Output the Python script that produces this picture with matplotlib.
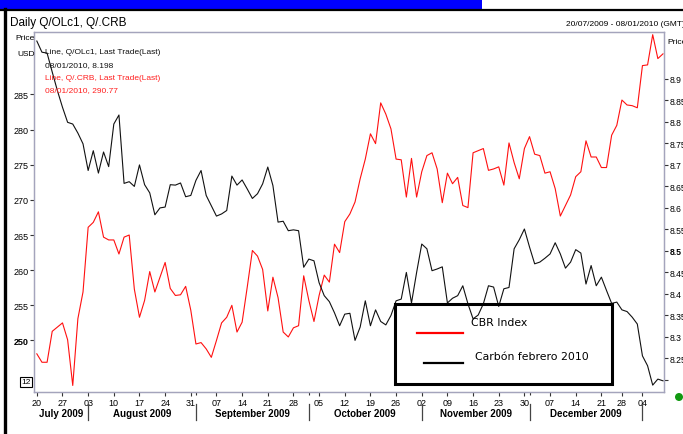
import numpy as np
import pandas as pd
import matplotlib
matplotlib.use("Agg")
import matplotlib.pyplot as plt
from matplotlib.patches import Rectangle, Ellipse
from matplotlib.lines import Line2D

# ---------------- data ----------------
start_date = "2009-07-20"
end_date = "2010-01-08"
holidays = ["2009-12-25", "2010-01-01"]

crb_index = [
    248.1, 246.9, 246.9, 251.3, 251.9, 252.5, 250.1, 243.6, 253.1, 256.9,
    266.1, 266.8, 268.3, 264.7, 264.3, 264.3, 262.3, 264.7, 265.0, 257.3,
    253.3, 255.7, 259.8, 256.9, 259.0, 261.1, 257.4, 256.4, 256.5, 257.7,
    254.3, 249.5, 249.7, 248.8, 247.6, 250.0, 252.5, 253.3, 255.0, 251.2,
    252.6, 257.6, 262.8, 262.0, 260.1, 254.2, 259.0, 256.1, 251.2, 250.5,
    251.8, 252.1, 259.2, 255.7, 252.7, 256.4, 259.3, 258.3, 263.7, 262.5,
    266.9, 268.0, 269.7, 273.0, 275.8, 279.4, 278.0, 283.8, 282.2, 280.1,
    275.8, 275.7, 270.4, 275.9, 270.4, 274.0, 276.3, 276.7, 274.4, 269.6,
    273.8, 272.3, 273.2, 269.2, 268.9, 276.7, 277.0, 277.3, 274.2, 274.4,
    274.7, 272.1, 278.1, 275.3, 273.0, 277.3, 279.0, 276.5, 276.3, 273.8,
    274.0, 271.6, 267.7, 269.2, 270.7, 273.3, 274.0, 278.4, 276.1, 276.1,
    274.6, 274.6, 279.2, 280.6, 284.2, 283.5, 283.4, 283.1, 289.1, 289.2,
    293.5, 290.1, 290.77,
]

carbon_feb_2010 = [
    8.988, 8.962, 8.960, 8.916, 8.873, 8.834, 8.799, 8.795, 8.774, 8.749,
    8.687, 8.733, 8.681, 8.730, 8.696, 8.795, 8.816, 8.657, 8.661, 8.650,
    8.700, 8.654, 8.635, 8.584, 8.600, 8.602, 8.654, 8.653, 8.658, 8.626,
    8.629, 8.664, 8.687, 8.629, 8.605, 8.581, 8.586, 8.594, 8.674, 8.653,
    8.665, 8.644, 8.622, 8.633, 8.656, 8.695, 8.652, 8.567, 8.569, 8.547,
    8.549, 8.547, 8.462, 8.481, 8.477, 8.426, 8.396, 8.382, 8.356, 8.326,
    8.353, 8.355, 8.292, 8.323, 8.384, 8.326, 8.363, 8.336, 8.328, 8.350,
    8.384, 8.388, 8.450, 8.379, 8.450, 8.516, 8.505, 8.454, 8.458, 8.463,
    8.379, 8.390, 8.396, 8.419, 8.377, 8.342, 8.351, 8.377, 8.419, 8.416,
    8.371, 8.412, 8.415, 8.505, 8.526, 8.551, 8.509, 8.470, 8.474, 8.483,
    8.493, 8.519, 8.493, 8.460, 8.474, 8.503, 8.495, 8.423, 8.466, 8.419,
    8.439, 8.408, 8.378, 8.381, 8.363, 8.359, 8.346, 8.330, 8.256, 8.233,
    8.188, 8.202, 8.198,
]

left_ticks = [250, 255, 260, 265, 270, 275, 280, 285]
right_ticks = [8.2, 8.25, 8.3, 8.35, 8.4, 8.45, 8.5, 8.55, 8.6, 8.65,
               8.7, 8.75, 8.8, 8.85, 8.9]
right_tick_labels = ["", "8.25", "8.3", "8.35", "8.4", "8.45", "8.5", "8.55",
                     "8.6", "8.65", "8.7", "8.75", "8.8", "8.85", "8.9"]
week_labels = ["20", "27", "03", "10", "17", "24", "31", "07", "14", "21",
               "28", "05", "12", "19", "26", "02", "09", "16", "23", "30",
               "07", "14", "21", "28", "04"]
month_labels = ["July 2009", "August 2009", "September 2009",
                "October 2009", "November 2009", "December 2009"]

# ---------------- derived positions ----------------
days = pd.bdate_range(start_date, end_date)
days = days[~days.isin(pd.to_datetime(holidays))]
x = np.arange(len(days))
week_pos = x[days.dayofweek == 0]
month_start = [0] + [i for i in range(1, len(days)) if days[i].month != days[i - 1].month]

NARROW = ["Liberation Sans Narrow", "Liberation Sans", "DejaVu Sans"]

W, H = 683, 435
fig = plt.figure(figsize=(W / 100, H / 100), dpi=100)
fig.patch.set_facecolor("white")


def fx(px):
    return px / W


def fy(py):
    return 1 - py / H


# frame decorations
fig.add_artist(Rectangle((0, fy(9.5)), fx(482), 9.5 / H, transform=fig.transFigure,
                         facecolor="#0000ff", edgecolor="none"))
fig.add_artist(Line2D([0, 1], [fy(10.5), fy(10.5)], transform=fig.transFigure,
                      color="black", lw=1.6))
fig.add_artist(Line2D([fx(4.5), fx(4.5)], [0, fy(10)], transform=fig.transFigure,
                      color="black", lw=2.4))

fig.text(fx(10), fy(23), "Daily Q/OLc1, Q/.CRB", family=NARROW, fontsize=8.5,
         va="center", ha="left")
fig.text(fx(566), fy(25), "20/07/2009 - 08/01/2010 (GMT)", family=NARROW,
         fontsize=6, va="center", ha="left")
fig.text(fx(15), fy(39), "Price", family=NARROW, fontsize=6, va="center", ha="left")
fig.text(fx(17), fy(55), "USD", family=NARROW, fontsize=6, va="center", ha="left")
fig.text(fx(667), fy(43), "Price", family=NARROW, fontsize=6, va="center", ha="left")

# axes
ax = fig.add_axes([fx(34), fy(393), fx(664) - fx(34), fy(33) - fy(393)])
ax2 = ax.twinx()
ax.set_xlim(-0.55, 122.2)
ax.set_ylim(242.67, 293.88)
ax2.set_ylim(8.172, 9.009)

spine_c = "#a4a4bc"
for a in (ax, ax2):
    for s in a.spines.values():
        s.set_color(spine_c)
        s.set_linewidth(0.9)

ax.plot(x, crb_index, color="#ff1010", lw=0.8, zorder=3)
ax2.plot(x, carbon_feb_2010, color="#111111", lw=0.8, zorder=3)

ax.set_yticks(left_ticks)
ax.set_yticklabels([str(v) for v in left_ticks], family=NARROW, fontsize=6.5)
ax.tick_params(axis="y", direction="out", length=3, width=0.8, color="#333333", pad=1)
for lab, v in zip(ax.get_yticklabels(), left_ticks):
    if v == 250:
        lab.set_fontweight("bold")

ax2.set_yticks(right_ticks)
ax2.set_yticklabels(right_tick_labels, family=NARROW, fontsize=6.2)
ax2.tick_params(axis="y", direction="out", length=3, width=0.8, color="#333333", pad=1)
for lab, t in zip(ax2.get_yticklabels(), right_tick_labels):
    if t == "8.5":
        lab.set_fontweight("bold")

ax.set_xticks(week_pos)
ax.set_xticklabels(week_labels, family=NARROW, fontsize=6.5)
ax.set_xticks(month_start[1:], minor=True)
ax.tick_params(axis="x", which="major", direction="out", length=3, width=0.8,
               color="#333333", pad=1)
ax.tick_params(axis="x", which="minor", direction="out", length=2, width=0.8,
               color="#333333")

# month separators and labels
bounds = [ax.get_xlim()[0]] + month_start[1:]
xt = ax.get_xaxis_transform()
for b in month_start[1:]:
    ax.plot([b, b], [-0.033, -0.078], transform=xt, color="#444444", lw=0.9,
            clip_on=False)
for k, lab in enumerate(month_labels):
    c = (bounds[k] + bounds[k + 1]) / 2
    ax.text(c, -0.058, lab, transform=xt, ha="center", va="center",
            family=NARROW, fontsize=7, fontweight="bold")

# value box on left axis
fig.text(fx(26), fy(383), "12", family=NARROW, fontsize=6, ha="center", va="center",
         bbox=dict(boxstyle="square,pad=0.15", facecolor="white", edgecolor="black", lw=0.8))

# in-chart annotations
fig.text(fx(45), fy(53), "Line, Q/OLc1, Last Trade(Last)", family=NARROW, fontsize=6,
         va="center", ha="left", color="#111111")
fig.text(fx(45), fy(66), "08/01/2010, 8.198", family=NARROW, fontsize=6,
         va="center", ha="left", color="#111111")
fig.text(fx(45), fy(78), "Line, Q/.CRB, Last Trade(Last)", family=NARROW, fontsize=6,
         va="center", ha="left", color="#ff2020")
fig.text(fx(45), fy(91), "08/01/2010, 290.77", family=NARROW, fontsize=6,
         va="center", ha="left", color="#ff2020")

# legend box
fig.add_artist(Rectangle((fx(395), fy(385)), fx(612) - fx(395), (385 - 305) / H,
                         transform=fig.transFigure, facecolor="none",
                         edgecolor="black", lw=2.2, zorder=10))
fig.add_artist(Line2D([fx(417), fx(463)], [fy(334), fy(334)], transform=fig.transFigure,
                      color="#ff0000", lw=1.6, zorder=10))
fig.add_artist(Line2D([fx(424), fx(463)], [fy(364), fy(364)], transform=fig.transFigure,
                      color="black", lw=1.6, zorder=10))
fig.text(fx(471), fy(323), "CBR Index", family=["DejaVu Sans"], fontsize=7.8,
         va="center", ha="left", zorder=10)
fig.text(fx(475), fy(357), "Carbón febrero 2010", family=["DejaVu Sans"], fontsize=7.8,
         va="center", ha="left", zorder=10)

# green status dot
fig.add_artist(Ellipse((fx(679), fy(398)), 8 / W, 8 / H, transform=fig.transFigure,
                       facecolor="#119911", edgecolor="none"))

fig.savefig("out.png", dpi=100)
